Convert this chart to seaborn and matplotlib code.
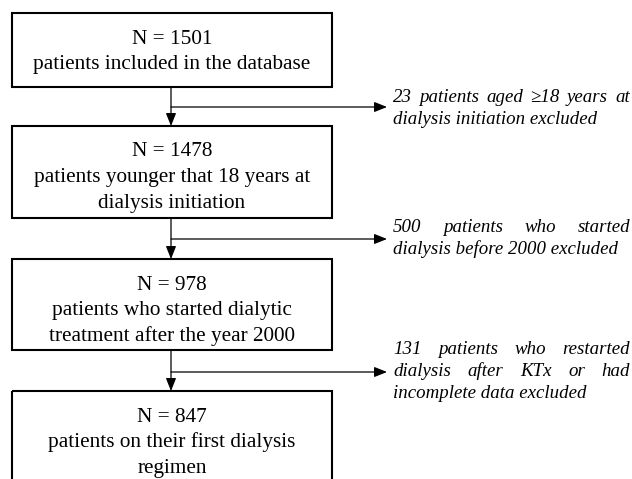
import matplotlib
matplotlib.use("Agg")
import matplotlib.pyplot as plt
import seaborn as sns
from matplotlib.patches import Rectangle

# Flow chart content
counts = [1501, 1478, 978, 847]
box_lines = [
    ["patients included in the database"],
    ["patients younger that 18 years at", "dialysis initiation"],
    ["patients who started dialytic", "treatment after the year 2000"],
    ["patients on their first dialysis", "regimen"],
]
excluded_counts = [23, 500, 131]
excluded_lines = [
    ["{n} patients aged \u226518 years at", "dialysis initiation excluded"],
    ["{n} patients who started", "dialysis before 2000 excluded"],
    ["{n} patients who restarted", "dialysis after KTx or had", "incomplete data excluded"],
]

# Layout (pixels, y downwards)
W, H = 632, 479
BOX_X0, BOX_X1 = 12, 332
STEM_X = 171
box_top = [13, 126, 259, 391]
box_bot = [87, 218, 350, 495]
branch_y = [107, 239, 372]
ARROW_END_X = 387
TEXT_X0, TEXT_X1 = 393, 630
excl_first_base = [102, 232, 354]
BOX_FS = 15.3
EXCL_FS = 13.6
BOX_BASE_OFF = 30.5
LINE_BOX = 25.7
LINE_EXCL = 22

sns.set_theme(style="white")
plt.rcParams["font.family"] = ["Liberation Serif", "DejaVu Serif"]

fig = plt.figure(figsize=(W / 100, H / 100), dpi=100)
ax = fig.add_axes([0, 0, 1, 1])
ax.set_xlim(0, W)
ax.set_ylim(H, 0)
ax.axis("off")
renderer = fig.canvas.get_renderer()

arrow_kw = dict(arrowstyle="-|>,head_length=0.55,head_width=0.22", lw=0.9,
                color="black", shrinkA=0, shrinkB=0, mutation_scale=14)


def word_width(word):
    t = ax.text(0, 0, word, fontsize=EXCL_FS, style="italic")
    w = t.get_window_extent(renderer).width
    t.remove()
    return w


def draw_justified(line, y, justify):
    words = line.split()
    if not justify or len(words) == 1:
        ax.text(TEXT_X0, y, line, fontsize=EXCL_FS, style="italic",
                ha="left", va="baseline", color="black")
        return
    widths = [word_width(w) for w in words]
    gap = (TEXT_X1 - TEXT_X0 - sum(widths)) / (len(words) - 1)
    x = TEXT_X0
    for w, wd in zip(words, widths):
        ax.text(x, y, w, fontsize=EXCL_FS, style="italic",
                ha="left", va="baseline", color="black")
        x += wd + gap


# boxes
for i, (n, lines) in enumerate(zip(counts, box_lines)):
    ax.add_patch(Rectangle((BOX_X0, box_top[i]), BOX_X1 - BOX_X0,
                           box_bot[i] - box_top[i], fill=False,
                           edgecolor="black", lw=1.5))
    cx = (BOX_X0 + BOX_X1) / 2
    for j, txt in enumerate([f"N = {n}"] + lines):
        ax.text(cx, box_top[i] + BOX_BASE_OFF + j * LINE_BOX, txt,
                fontsize=BOX_FS, ha="center", va="baseline", color="black")

# connectors and exclusions
for i, n in enumerate(excluded_counts):
    ax.annotate("", xy=(STEM_X, box_top[i + 1]), xytext=(STEM_X, box_bot[i]),
                arrowprops=arrow_kw)
    ax.annotate("", xy=(ARROW_END_X, branch_y[i]), xytext=(STEM_X, branch_y[i]),
                arrowprops=arrow_kw)
    lines = excluded_lines[i]
    for j, line in enumerate(lines):
        draw_justified(line.format(n=n), excl_first_base[i] + j * LINE_EXCL,
                       justify=j < len(lines) - 1)

fig.savefig("out.png", dpi=100)
